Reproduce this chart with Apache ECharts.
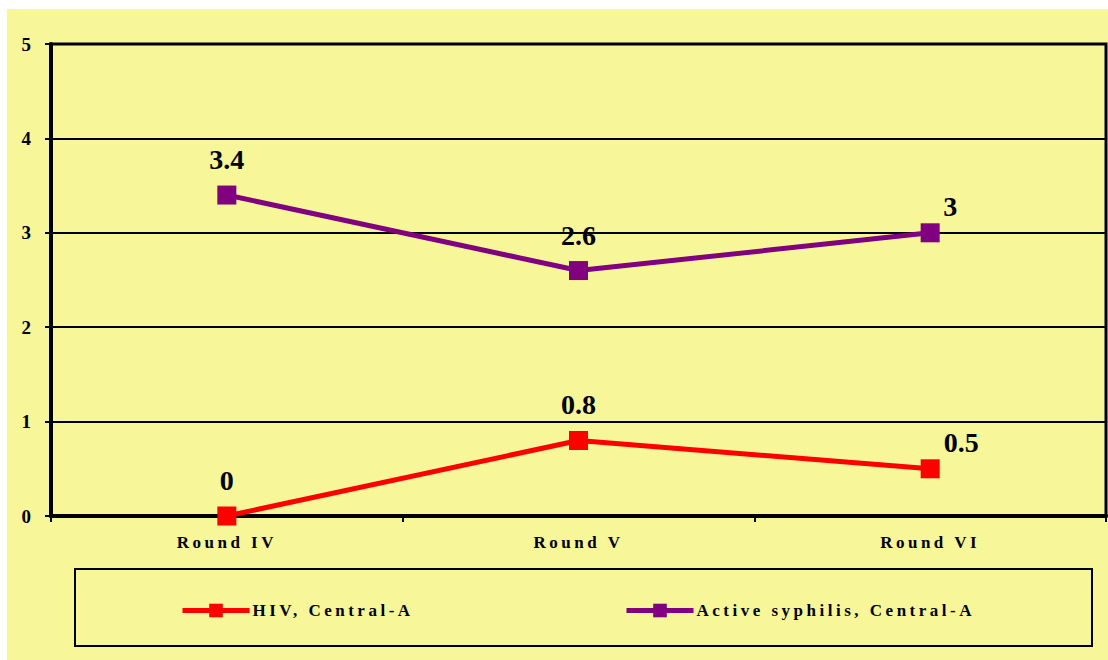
<!DOCTYPE html>
<html>
<head>
<meta charset="utf-8">
<script src="https://cdn.jsdelivr.net/npm/echarts@6/dist/echarts.min.js"></script>
<style>
  html, body { margin: 0; padding: 0; background: #ffffff; }
  #chart { width: 1108px; height: 660px; }
  /* spaced lettering for category and legend captions (the only 17px texts) */
  #chart text[style*="17px"] { letter-spacing: 3.5px; }
</style>
</head>
<body>
<div id="chart"></div>
<script>
const categories = ['Round IV', 'Round V', 'Round VI'];
const hivValues = [0, 0.8, 0.5];
const syphilisValues = [3.4, 2.6, 3];
const seriesNames = ['HIV, Central-A', 'Active syphilis, Central-A'];
// label shifts for the last point of each line
const hivLabelOffsets = [[0, 0], [0, 0], [31, 9]];
const syphilisLabelOffsets = [[0, 0], [0, 0], [20, 9]];

const FONT = "'Liberation Serif', 'Times New Roman', serif";
const BG = '#F7F799';

function withLabels(values, offsets) {
  return values.map((v, i) => ({ value: v, label: { offset: offsets[i] } }));
}

const legendText = { fontFamily: FONT, fontWeight: 'bold', fontSize: 17, color: '#000', padding: [0, 0, 0, -2] };

const chart = echarts.init(document.getElementById('chart'), null, { renderer: 'svg' });
chart.setOption({
  animation: false,
  backgroundColor: '#ffffff',
  textStyle: { fontFamily: FONT },
  graphic: [
    { type: 'rect', z: -10, shape: { x: 7, y: 9, width: 1101, height: 651 }, style: { fill: BG } },
    { type: 'rect', z: 0, shape: { x: 75, y: 569, width: 1017, height: 77 },
      style: { fill: 'none', stroke: '#000', lineWidth: 2 } }
  ],
  grid: { left: 51, top: 44, right: 2, bottom: 144, show: true, borderColor: '#000', borderWidth: 3, backgroundColor: 'transparent' },
  legend: [
    { data: [seriesNames[0]], left: 175, top: 597, itemWidth: 67, itemHeight: 17, itemGap: 0,
      lineStyle: { width: 5 }, textStyle: legendText },
    { data: [seriesNames[1]], left: 619, top: 597, itemWidth: 67, itemHeight: 17, itemGap: 0,
      lineStyle: { width: 5 }, textStyle: legendText }
  ],
  xAxis: {
    type: 'category',
    data: categories,
    boundaryGap: true,
    axisLine: { lineStyle: { color: '#000', width: 4 } },
    axisTick: { show: true, length: 6, lineStyle: { color: '#000', width: 2 } },
    axisLabel: { fontFamily: FONT, fontWeight: 'bold', fontSize: 17, color: '#000', margin: 18 }
  },
  yAxis: {
    type: 'value',
    min: 0, max: 5, interval: 1,
    axisLine: { show: true, lineStyle: { color: '#000', width: 4 } },
    axisTick: { show: true, length: 6, lineStyle: { color: '#000', width: 2 } },
    axisLabel: { fontFamily: FONT, fontWeight: 'bold', fontSize: 19, color: '#000', margin: 20 },
    splitLine: { show: true, lineStyle: { color: '#000', width: 2 } }
  },
  series: [
    {
      name: seriesNames[0], type: 'line',
      data: withLabels(hivValues, hivLabelOffsets),
      symbol: 'rect', symbolSize: 19,
      lineStyle: { color: '#FF0000', width: 5 },
      itemStyle: { color: '#FF0000' },
      label: { show: true, position: 'top', distance: 12, fontFamily: FONT, fontWeight: 'bold', fontSize: 28, color: '#000' }
    },
    {
      name: seriesNames[1], type: 'line',
      data: withLabels(syphilisValues, syphilisLabelOffsets),
      symbol: 'rect', symbolSize: 19,
      lineStyle: { color: '#800080', width: 5 },
      itemStyle: { color: '#800080' },
      label: { show: true, position: 'top', distance: 12, fontFamily: FONT, fontWeight: 'bold', fontSize: 28, color: '#000' }
    }
  ]
});
</script>
</body>
</html>
